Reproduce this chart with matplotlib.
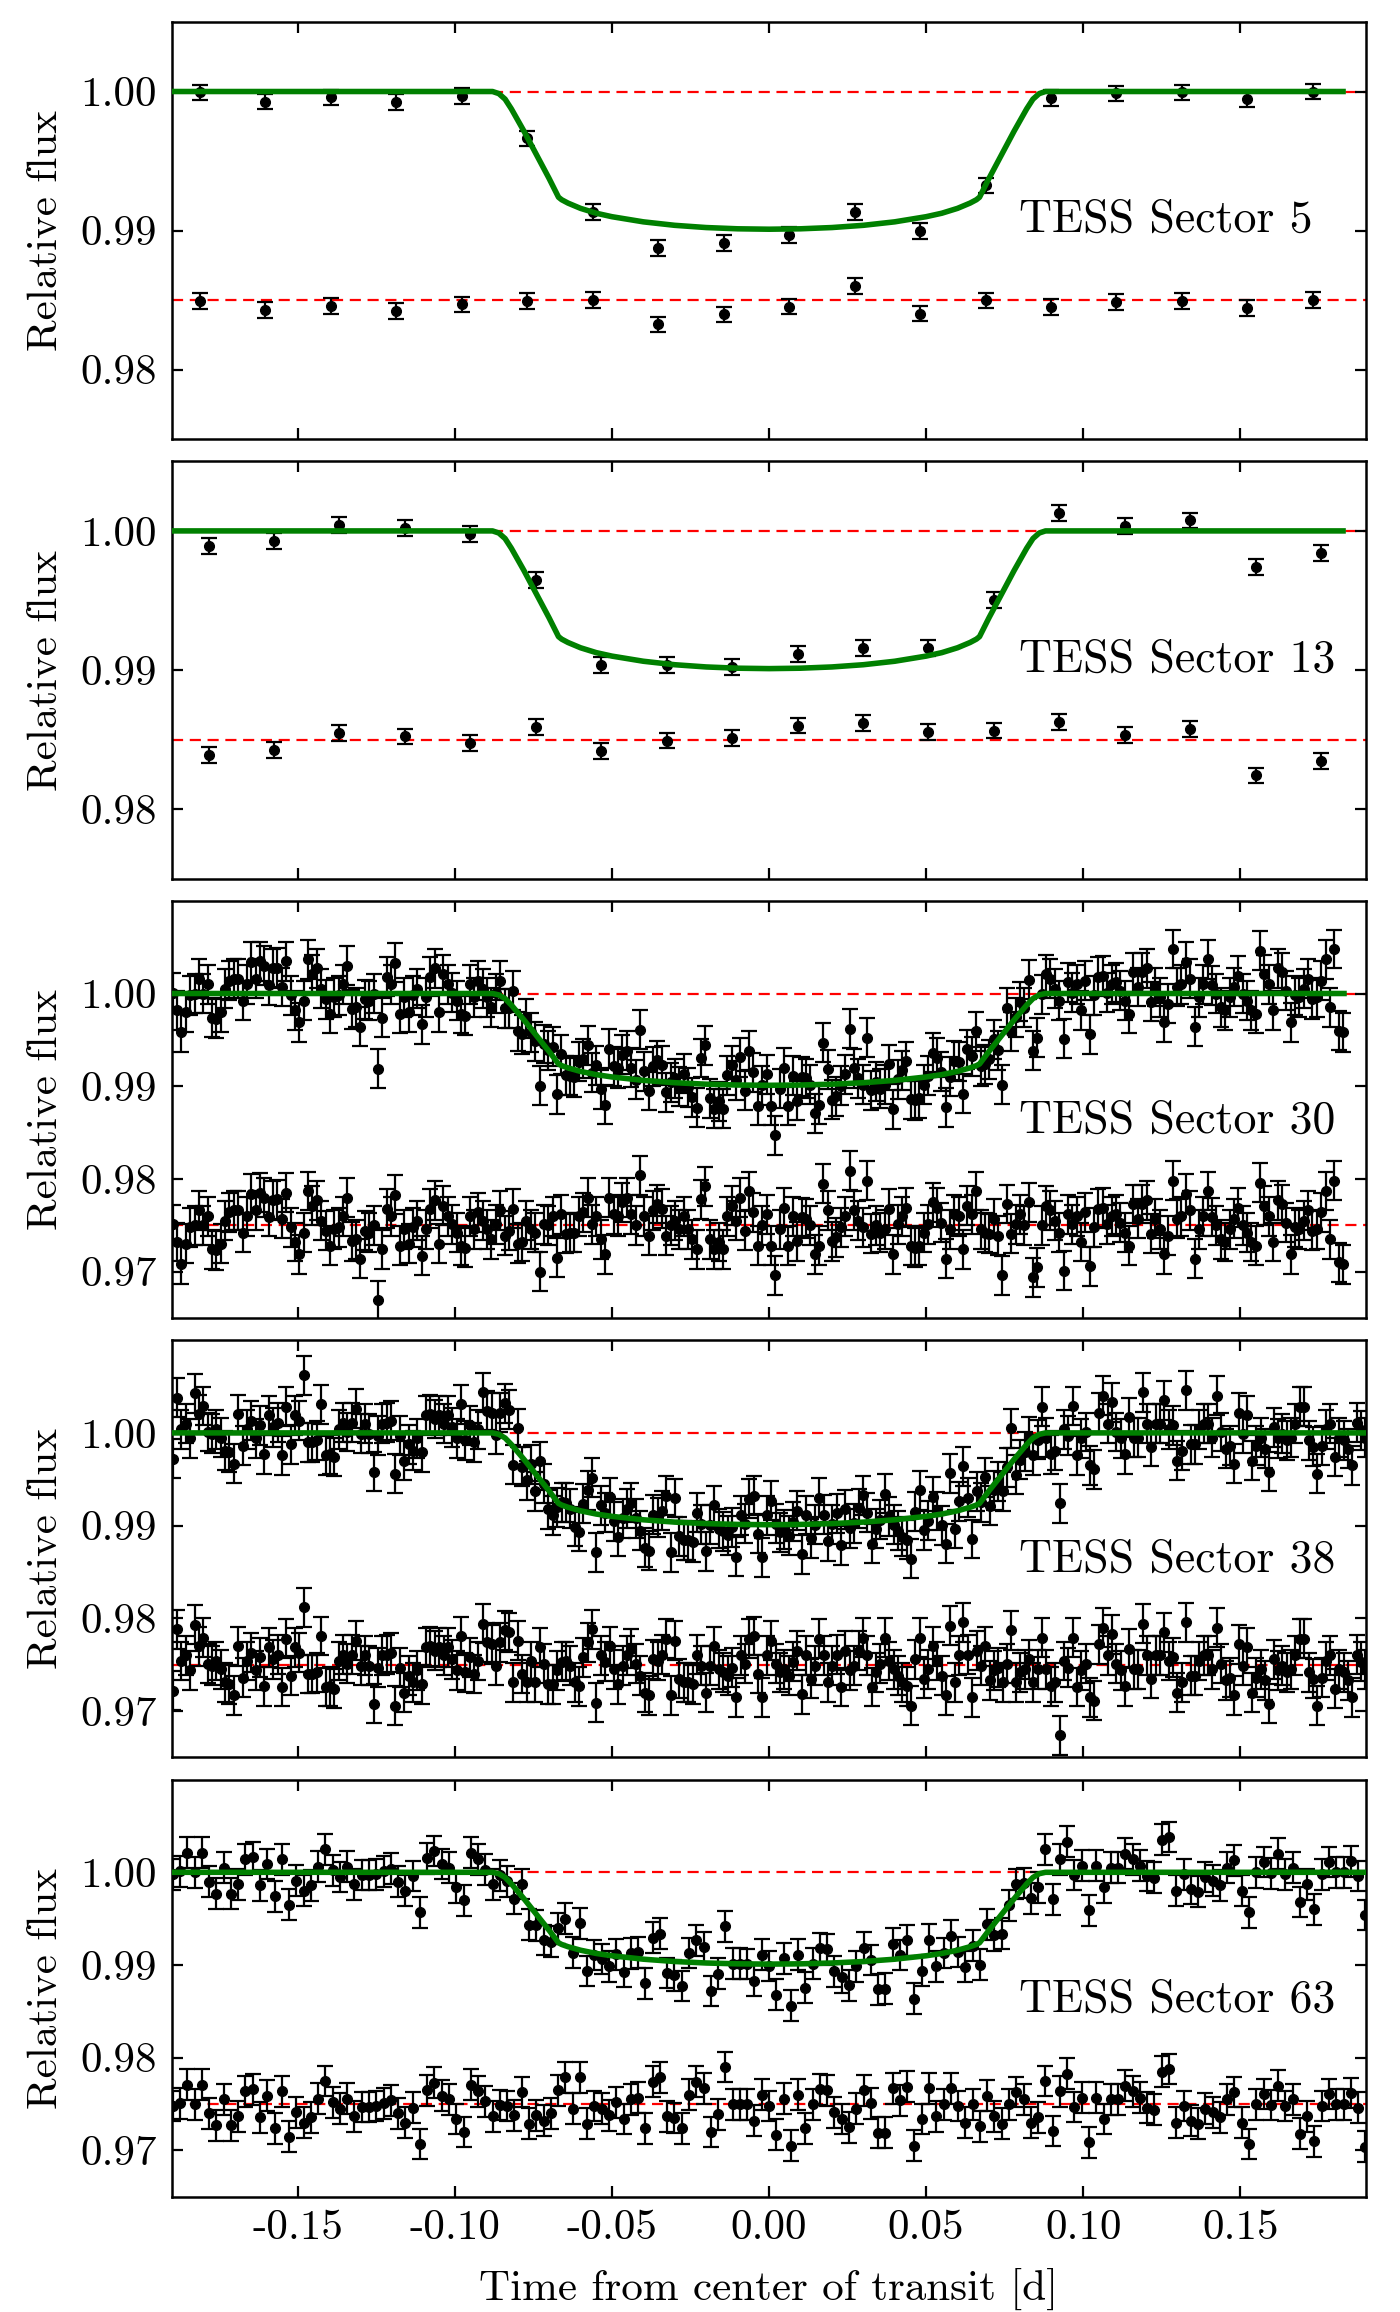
import numpy as np
import matplotlib
matplotlib.use('Agg')
import matplotlib.pyplot as plt
from matplotlib.ticker import FormatStrFormatter, MultipleLocator

# Computer Modern look, plain hyphen for negative ticks
plt.rcParams['font.family'] = ['cmr10', 'DejaVu Serif']
plt.rcParams['mathtext.fontset'] = 'cm'
plt.rcParams['axes.unicode_minus'] = False

# --- data ---------------------------------------------------------------
sectors = ['TESS Sector 5', 'TESS Sector 13', 'TESS Sector 30',
           'TESS Sector 38', 'TESS Sector 63']

# transit model (same fit in every panel)
model_time = [-0.088, -0.086, -0.084, -0.082, -0.080, -0.078, -0.076, -0.074,
              -0.072, -0.070, -0.068, -0.067, -0.066, -0.064, -0.060, -0.055,
              -0.050, -0.040, -0.030, -0.020, -0.010, 0.000, 0.010, 0.020,
              0.030, 0.040, 0.050, 0.055, 0.060, 0.064, 0.066, 0.067, 0.068,
              0.070, 0.072, 0.074, 0.076, 0.078, 0.080, 0.082, 0.084, 0.086,
              0.088]
model_flux = [1.00000, 0.99985, 0.99945, 0.99875, 0.99795, 0.99715, 0.99630,
              0.99545, 0.99460, 0.99375, 0.99285, 0.99240, 0.99222, 0.99198,
              0.99160, 0.99125, 0.99100, 0.99063, 0.99038, 0.99022, 0.99013,
              0.99010, 0.99013, 0.99022, 0.99038, 0.99063, 0.99100, 0.99125,
              0.99160, 0.99198, 0.99222, 0.99240, 0.99285, 0.99375, 0.99460,
              0.99545, 0.99630, 0.99715, 0.99795, 0.99875, 0.99945, 0.99985,
              1.00000]
model_start = [-0.19, -0.19, -0.19, -0.19, -0.19]
model_end = [0.1827, 0.1827, 0.1830, 0.19, 0.19]

# first / last time stamp of each light curve [d]
t_first = [-0.1811, -0.1784, -0.1898, -0.1898, -0.1898]
t_last = [0.1731, 0.1757, 0.1827, 0.1898, 0.1898]

# residuals (data - model) in ppt
resid_s5 = [-0.07, -0.72, -0.43, -0.77, -0.31, -0.07, 0.02, -1.75, -1.03,
            -0.46, 1.03, -0.96, -0.02, -0.48, -0.14, -0.07, -0.57, 0.00]

resid_s13 = [-1.10, -0.74, 0.45, 0.22, -0.22, 0.89, -0.84, -0.07, 0.10,
             1.01, 1.22, 0.55, 0.65, 1.29, 0.34, 0.75, -2.58, -1.56]

resid_s30 = [0.1, -1.8, -4.2, -2.0, -0.2, 0.0, 1.6, 0.0, 1.0, -2.6,
             -2.7, -2.0, 0.5, 1.4, 1.6, 1.6, -0.8, 1.0, 3.4, 1.6,
             3.5, 3.0, 0.9, 2.7, 2.8, 0.7, 3.5, -0.2, -1.8, -3.1,
             -0.8, 3.7, 2.1, 2.7, 0.5, -0.6, -2.2, -0.4, -0.2, 1.0,
             3.0, -1.7, -1.5, -3.6, -0.6, -0.8, 0.0, -8.1, -2.6, 1.8,
             1.0, 3.3, -2.2, -0.4, -2.0, -0.2, 0.5, -3.3, -0.4, 1.8,
             2.7, -2.0, 2.1, 1.0, 0.1, -0.8, -2.2, -2.4, 1.0, -0.4,
             1.4, 0.5, -0.4, -1.5, 0.1, 1.6, -1.1, -0.6, 1.8, -2.0,
             -1.8, 0.5, -0.4, -0.8, -5.0, 0.1, 0.0, 1.0, -3.5, 1.2,
             -0.9, -0.8, -0.8, 1.0, 1.4, 3.0, 0.1, 1.0, -1.5, -3.1,
             3.0, 1.2, 1.0, 2.5, 3.0, 1.2, 0.0, 5.4, 1.0, -1.1,
             1.6, 2.3, 1.8, -1.1, 0.0, 0.5, -0.4, 1.0, -0.4, -1.5,
             -2.6, 2.8, 4.2, -1.5, -2.6, -1.8, -2.6, 1.0, 2.1, 0.5,
             3.0, -0.6, 3.7, 1.4, -2.2, 0.0, 1.2,
             -2.2, -5.4, -0.4, 1.9, -2.2, 1.0, -1.7, 0.9, 0.7, 0.0,
             -3.1, -2.2, 4.5, 1.6, -1.7, -1.3, -0.2, 1.0, 5.9, 1.6,
             0.5, -0.2, 4.8, -0.9, 0.0, -0.8, -0.4, 1.8, -3.1, 0.1,
             1.0, 1.9, -2.2, -2.4, -2.2, -0.8, 0.1, 2.5, 1.9, 0.3,
             -3.6, -0.4, 1.2, 1.0, -2.6, 2.1, 1.2, 3.7, -0.4, -0.8,
             -0.9, 0.7, -1.1, -5.4, 2.3, -0.9, 0.1, 1.2, 0.0, 2.5,
             -5.6, -4.5, 0.0, 2.1, 1.6, 0.5, -0.8, -4.9, 1.2, 0.1,
             1.0, -1.8, 1.4, -4.4, -0.2, 1.8, 1.9, 0.1, 1.0, 1.2,
             0.3, -0.8, -2.2, 2.3, 0.7, 2.3, 2.7, -0.9, 0.7, -0.4,
             -3.1, -1.1, 4.8, 0.7, 1.0, 3.4, 1.6, -3.6, -0.4, 1.0,
             3.7, 0.9, 0.0, -1.5, -1.8, -0.4, 0.7, 1.9, 0.0, -0.8,
             -1.8, -2.2, 4.6, 2.1, 1.0, -1.8, 2.7, 2.3, 0.3, -3.1,
             -0.2, -0.4, 0.5, 1.6, -0.6, -0.4, 1.4, 3.7, -1.5, 4.8,
             -4.0, -4.2]

resid_s38 = [-2.8, 3.8, 0.4, 1.0, -0.6, 4.3, 2.0, 2.9, 0.1,
             -0.1, 0.4, -0.5, -1.9, -2.1, -3.3, 2.0, -1.4, 0.4, 1.3,
             -0.6, 0.8, -2.3, 1.9, 0.6, 1.1, -2.4, 2.8, -1.2, 1.9,
             1.3, 6.2, -1.0, -1.0, -0.8, 3.1, -2.4, -2.3, -2.6, 0.4,
             1.1, 0.1, 1.1, 2.6, -0.1, 1.0, -0.1, -4.2, -0.3, 1.0,
             1.1, 1.3, -4.4, -0.3, -3.0, -1.2, -1.9, -0.6, -2.1, 1.9,
             2.0, 1.5, 1.9, 1.0, 1.9, 0.6, -0.6, 3.1, -0.8, 0.8,
             -1.0, 0.4, 4.4, 2.4, 2.2, -0.1, 2.4, 3.7, 3.5, -1.9,
             2.6, -1.0, -1.9, 0.4, -1.9, 1.9, 0.1, -2.1, -2.1, -0.6,
             0.3, 0.4, -0.1, -1.9, -2.3, 0.8, 2.4, 3.8, -4.1, 1.0,
             0.3, 2.0, -0.5, -2.1, -0.1, 1.0, 1.7, 0.1, -1.2, -3.0,
             -3.3, 0.6, 0.4, 1.1, 2.8, -3.3, 2.6, -1.5, -1.9, -1.9,
             -2.1, 1.1, -0.1, -3.0, -0.1, 2.0, -0.5, -0.8, -1.2, -0.3,
             -3.5, 1.0, 0.1, 2.8, 3.1, -1.0, -3.5, 1.0,
             2.6, 0.1, -0.8, -0.5, -1.2, 0.3, 1.5, -3.2, 1.0, -1.5,
             -0.1, 2.8, 1.0, -1.9, -0.1, 1.1, -2.4, 1.5, -0.6, -0.1,
             1.5, 2.9, 1.0, -2.4, -0.8, 0.1, 2.9, 0.4, -0.5, -1.2,
             -1.9, -2.3, -4.4, 0.6, 2.9, -1.5, -0.5, 2.0, 0.4, -1.2,
             -3.3, 4.2, -1.9, 1.0, 4.6, 1.1, -3.5, 1.5, -0.1, 2.0,
             -1.7, -0.6, -0.3, -1.9, 0.1, 3.7, -1.9, -0.8, -0.5, 0.6,
             -1.9, -0.5, 2.9, -0.5, -2.3, -1.9, -7.6, 0.4, -0.3, 2.9,
             -2.4, -0.6, 0.1, -3.5, -3.9, 2.2, 4.0, 1.0, 3.3, 0.1,
             -0.6, -2.3, 1.7, -0.5, -0.5, 4.4, 1.0, -1.5, 1.0, 1.0,
             3.5, 0.4, 0.8, -3.0, -1.9, 4.6, -1.2, -1.2, 0.4, 1.0,
             1.0, -0.5, 4.0, 0.1, -1.7, -1.4, -3.3, 2.2, -0.1, 1.9,
             -3.0, -1.4, -0.5, -1.7, -4.2, 0.6, -0.6, -0.1, -0.8, -0.5,
             1.0, 2.8, 2.8, -0.8, -1.5, -4.4, -1.4, 0.4, 1.0, -2.6,
             -0.5, -0.8, -1.7, -3.5, 1.1, 0.3, -0.5]

resid_s63 = [-0.2, 0.1, 2.1, 0.0, 2.1, -1.0, -2.3, 0.5, -2.3, -1.3,
             1.4, 1.6, -1.4, 0.9, -2.6, 1.4, -3.5, -0.9, -2.0, -1.4,
             0.6, 2.5, 0.2, -0.5, 0.6, -1.3, -0.3, -0.3, -0.2, 0.1,
             0.4, -1.0, -2.0, -0.4, -4.3, 1.5, 2.3, 0.9, 0.5, -1.6,
             -3.0, 2.1, 1.4, 0.3, -1.3, -0.1, -0.2, -1.2, 1.3, -2.1,
             -1.2, -1.8, -1.0, 1.5, 2.9, -0.5, 2.9, -2.1, -0.2, -0.5,
             -1.2, 0.2, -1.6, 0.5, 0.7, -2.6, 2.4, 2.9, -1.3, -1.5,
             -2.6, 1.0, 2.4, 1.7, -3.0, -1.1, 4.0, 0.0, 0.0, 0.0,
             -1.8, 1.0,
             -0.2, -3.3, 0.6, -4.5, 1.0, -2.6, 0.0, 1.6, 1.5, -0.9,
             -1.6, -2.5, -0.5, 1.5, 0.1, -3.1, -3.1, 1.7, 0.4, 1.9,
             -4.5, -1.6, 1.7, -1.3, 0.0, 1.7, -0.2, -2.0, 0.0, -2.4,
             0.9, -1.3, -2.1, 0.0, 1.3, 0.5, -2.0, -1.4, 2.5, -2.9,
             1.4, 3.3, -0.3, 0.7, -4.1, 0.7, -1.6, 0.5, 0.5, 2.0,
             1.4, 0.7, -0.4, -0.6, 3.5, 3.8, -2.0, -0.2, -1.8, -2.1,
             -0.5, -0.9, -1.4, 0.5, 1.3, -2.0, -4.3, 0.0, 1.1, -0.1,
             2.0, -0.2, 0.5, -3.2, -1.3, -4.0, -0.2, 1.1, 0.0, 0.0,
             1.2, -0.4, -4.6]

residuals = [resid_s5, resid_s13, resid_s30, resid_s38, resid_s63]
flux_err = [0.00057, 0.00057, 0.0021, 0.0021, 0.00166]
resid_offset = [0.985, 0.985, 0.975, 0.975, 0.975]
y_limits = [(0.975, 1.005), (0.975, 1.005), (0.965, 1.01), (0.965, 1.01), (0.965, 1.01)]
y_ticks = [[0.98, 0.99, 1.00], [0.98, 0.99, 1.00], [0.97, 0.98, 0.99, 1.00],
           [0.97, 0.98, 0.99, 1.00], [0.97, 0.98, 0.99, 1.00]]
x_ticks = [-0.15, -0.10, -0.05, 0.00, 0.05, 0.10, 0.15]
label_y = [0.9899, 0.9899, 0.9850, 0.9850, 0.9850]

# --- figure --------------------------------------------------------------
fig, axes = plt.subplots(5, 1, figsize=(14, 23.12), dpi=100)
fig.subplots_adjust(left=0.1229, right=0.9757, top=0.9905, bottom=0.0498, hspace=0.053)

for i, ax in enumerate(axes):
    res = np.array(residuals[i]) * 1e-3
    t = np.linspace(t_first[i], t_last[i], len(res))
    mt = np.concatenate([[model_start[i]], model_time, [model_end[i]]])
    mf = np.concatenate([[1.0], model_flux, [1.0]])
    flux = np.interp(t, mt, mf) + res

    ax.axhline(1.0, color='red', lw=1.6, dashes=(5, 3), zorder=1)
    ax.axhline(resid_offset[i], color='red', lw=1.6, dashes=(5, 3), zorder=1)

    for y in (flux, resid_offset[i] + res):
        ax.errorbar(t, y, yerr=flux_err[i], fmt='o', color='black', ms=7,
                    elinewidth=1.6, capsize=5.5, capthick=1.6, zorder=2)

    ax.plot(mt, mf, color='green', lw=4, zorder=3)

    ax.text(0.0795, label_y[i], sectors[i], fontsize=33, ha='left', va='baseline')

    ax.set_xlim(-0.19, 0.19)
    ax.set_ylim(*y_limits[i])
    ax.set_xticks(x_ticks)
    ax.set_yticks(y_ticks[i])
    ax.xaxis.set_major_formatter(FormatStrFormatter('%.2f'))
    ax.yaxis.set_major_formatter(FormatStrFormatter('%.2f'))
    ax.tick_params(direction='in', top=True, right=True, length=8, width=1.6,
                   labelsize=31)
    ax.tick_params(axis='y', pad=11)
    ax.tick_params(axis='x', pad=9)
    for sp in ax.spines.values():
        sp.set_linewidth(1.8)

    ax.set_ylabel('Relative flux', fontsize=31)
    ax.yaxis.set_label_coords(-0.09, 0.5)
    if i < 4:
        ax.tick_params(labelbottom=False)

axes[-1].set_xlabel('Time from center of transit [d]', fontsize=31)
axes[-1].xaxis.set_label_coords(0.5, -0.17)

fig.savefig('out.png', dpi=100)
